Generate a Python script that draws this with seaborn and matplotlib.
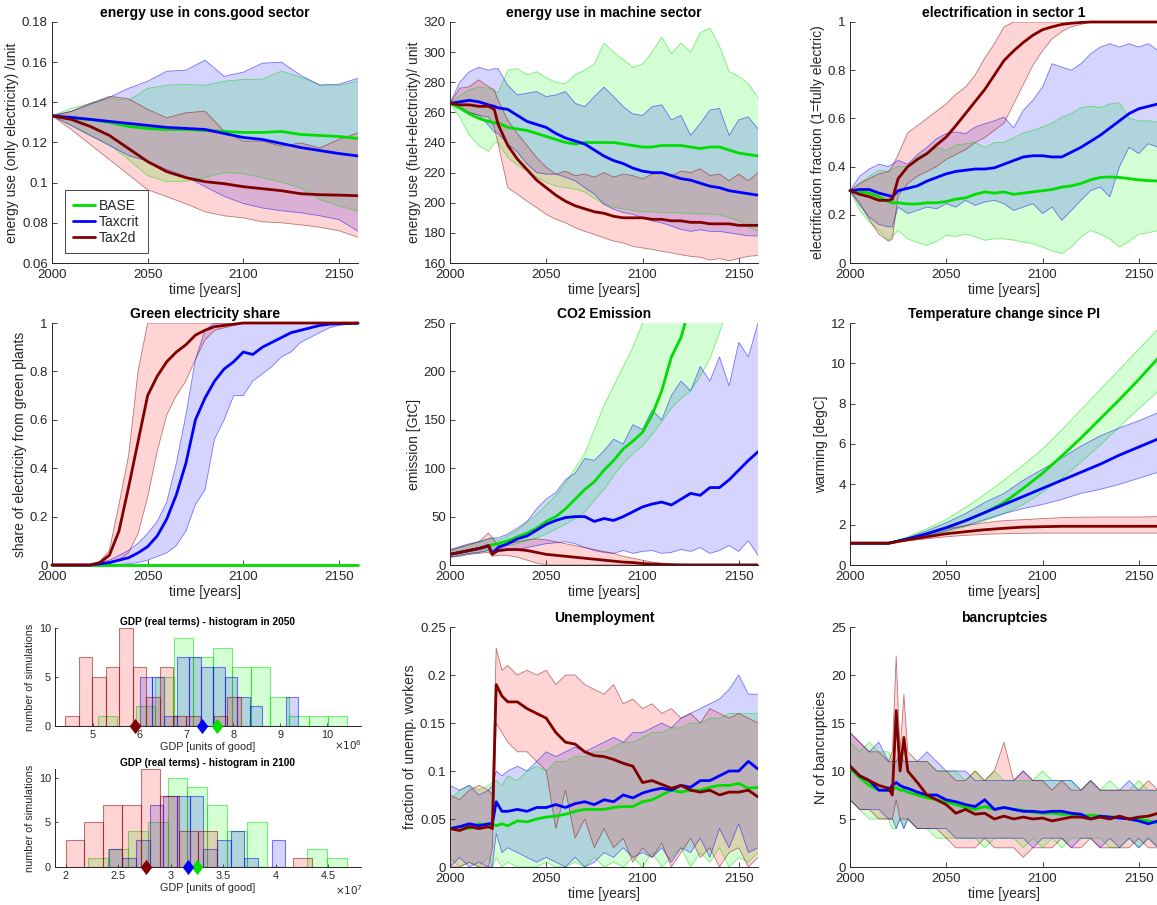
import numpy as np
import pandas as pd
import matplotlib
matplotlib.use("Agg")
import matplotlib.pyplot as plt
import seaborn as sns
from matplotlib.ticker import FuncFormatter
from matplotlib.lines import Line2D
from matplotlib.colors import to_rgba

# ---------------------------------------------------------------- data
SCEN = ["BASE", "Taxcrit", "Tax2d"]

# panel 1: energy use in cons.good sector
p1_years = list(range(2000, 2161, 10))
p1_base_mean = [.1333, .132, .1315, .130, .128, .127, .1265, .1265, .126, .1255, .125, .125, .1255, .124, .1235, .123, .122]
p1_base_lo = [.1333, .1285, .1235, .119, .1115, .1035, .1005, .1007, .1025, .105, .1045, .1025, .1002, .0974, .0916, .0883, .0858]
p1_base_hi = [.1333, .137, .1395, .142, .141, .147, .1485, .149, .1485, .1505, .1514, .1515, .1556, .1525, .149, .1484, .1505]
p1_tc_mean = [.1333, .1325, .1315, .1305, .1295, .1285, .1275, .127, .1265, .1245, .1225, .1215, .1195, .1175, .116, .1145, .1133]
p1_tc_lo = [.1333, .1285, .1235, .1185, .1135, .1107, .1065, .103, .098, .0932, .0896, .0874, .086, .085, .0835, .0816, .0758]
p1_tc_hi = [.1333, .1355, .139, .1425, .147, .1505, .1555, .156, .161, .153, .155, .1595, .160, .1535, .1485, .149, .152]
p1_t2_mean = [.1333, .1315, .128, .1235, .117, .1105, .1055, .1025, .1005, .0995, .098, .097, .096, .0945, .094, .0938, .0935]
p1_t2_lo = [.1333, .1265, .119, .1115, .104, .0965, .093, .0895, .0855, .0835, .0825, .0805, .080, .079, .0778, .0761, .0728]
p1_t2_hi = [.1333, .1355, .1395, .143, .1418, .1365, .1323, .1348, .1356, .1257, .1207, .1207, .1182, .1198, .1173, .1215, .1248]

# panel 2: energy use in machine sector
p2_years = [2000, 2005, 2010, 2015, 2020, 2023] + list(range(2025, 2161, 5))
p2_base_mean = [266, 263, 259, 256, 254, 253, 253, 250, 249, 248, 246, 244, 242, 240, 239, 240, 240, 240, 240, 239, 238, 237, 237, 238, 238, 238, 237, 236, 237, 237, 235, 233, 232, 231]
p2_base_lo = [266, 257, 245, 238, 234, 240, 240, 230, 225, 221, 217, 213.5, 211, 210, 209, 207, 203, 199, 197, 196, 195, 194, 194, 193.5, 193.5, 193, 193, 192.5, 192.5, 192, 190, 188, 184, 181]
p2_base_hi = [266, 271, 275, 277, 276, 274, 273, 288, 289, 285, 287, 283, 280, 279, 285, 288, 292, 306, 300, 295, 290, 292, 300, 310, 299, 306, 300, 313, 316, 304, 287, 284, 279, 270]
p2_tc_mean = [266, 267, 268, 267, 265, 264, 263, 262, 258, 254, 252, 250, 246, 243, 241, 239, 235, 231, 228, 226, 223, 221, 220, 220, 218, 216, 215, 213, 211, 210, 208, 207, 206, 205]
p2_tc_lo = [266, 262.6, 260, 258, 251.5, 247, 246, 239, 233.6, 225.8, 220, 219, 219, 217, 214.6, 210, 205.7, 199, 195.7, 193.4, 192.3, 190, 188, 186.7, 184.5, 182.3, 181, 182, 181, 181, 180, 179, 178, 178]
p2_tc_hi = [266, 280, 287, 290, 288, 289, 289, 278, 271.6, 272.7, 273.8, 270.5, 271.6, 273.8, 266, 263.8, 270.5, 276.7, 270.5, 263.8, 259, 258, 263.8, 265, 255, 258, 244.8, 252.6, 261.5, 262.6, 244.8, 255, 257, 249]
p2_t2_mean = [266, 265, 265, 264, 264, 262, 252, 238, 229, 222, 215, 210, 205, 201, 198, 196, 194, 193, 191, 190, 190, 190, 189, 189, 188, 188, 187, 187, 186, 186, 186, 185, 185, 185]
p2_t2_lo = [266, 263.8, 260, 258, 257, 250, 239, 210, 205.7, 201, 196.8, 192.3, 189, 186.7, 183.4, 181, 179, 176.7, 174.5, 173.3, 171, 170, 169, 167.8, 166.7, 165.5, 164.4, 163.8, 162, 162.9, 161.5, 163, 164.4, 165]
p2_t2_hi = [266, 276, 277, 281.6, 277, 275, 268, 254.8, 246, 238, 230, 223.6, 219, 221, 218, 219, 217, 220, 217, 219, 218, 215.8, 219, 220, 218, 221, 220, 222.5, 218, 219, 214.6, 219, 214.6, 220]

# panel 3: electrification in sector 1
p3_years = [2000, 2005, 2010, 2015, 2020, 2022] + list(range(2025, 2161, 5))
p3_base_mean = [.30, .295, .29, .275, .255, .25, .25, .245, .245, .25, .25, .255, .265, .27, .285, .295, .29, .295, .285, .29, .295, .30, .305, .315, .32, .33, .345, .355, .357, .355, .35, .345, .342, .34]
p3_base_lo = [.30, .22, .17, .135, .095, .11, .135, .10, .085, .073, .09, .115, .11, .12, .11, .094, .10, .10, .095, .087, .08, .066, .05, .039, .066, .108, .135, .12, .10, .066, .09, .12, .125, .135]
p3_base_hi = [.30, .33, .36, .385, .38, .39, .40, .40, .44, .46, .48, .467, .49, .495, .50, .48, .50, .50, .52, .54, .55, .565, .58, .605, .62, .645, .65, .645, .66, .665, .60, .59, .59, .585]
p3_tc_mean = [.30, .305, .305, .29, .28, .275, .30, .31, .32, .34, .355, .37, .38, .385, .39, .39, .395, .41, .425, .44, .445, .445, .44, .44, .46, .48, .505, .53, .56, .59, .62, .64, .65, .66]
p3_tc_lo = [.30, .24, .19, .16, .15, .15, .232, .205, .218, .232, .225, .246, .232, .26, .239, .253, .26, .246, .218, .232, .246, .205, .232, .177, .218, .26, .30, .315, .274, .40, .48, .454, .495, .48]
p3_tc_hi = [.30, .36, .39, .41, .40, .41, .426, .41, .45, .48, .516, .537, .544, .537, .564, .578, .59, .606, .56, .633, .675, .73, .827, .813, .80, .827, .868, .896, .91, .896, .91, .896, .91, .882]
p3_t2_mean = [.30, .285, .275, .26, .26, .265, .35, .40, .43, .454, .49, .523, .57, .62, .67, .72, .78, .84, .88, .915, .945, .968, .98, .99, .995, .998, 1, 1, 1, 1, 1, 1, 1, 1]
p3_t2_lo = [.30, .25, .18, .12, .09, .10, .28, .33, .36, .38, .40, .43, .45, .47, .50, .52, .55, .58, .66, .74, .82, .88, .93, .96, .98, .99, 1, 1, 1, 1, 1, 1, 1, 1]
p3_t2_hi = [.30, .33, .35, .37, .38, .40, .45, .54, .57, .60, .63, .66, .70, .73, .78, .85, .91, .98, 1, 1, 1, 1, 1, 1, 1, 1, 1, 1, 1, 1, 1, 1, 1, 1]

# panel 4: green electricity share
p4_years = list(range(2000, 2161, 5))
p4_base_mean = [0] * 33
p4_base_lo = [0] * 33
p4_base_hi = [0] * 33
p4_tc_mean = [0, 0, 0, 0, 0, .005, .01, .02, .03, .05, .076, .12, .19, .29, .42, .60, .69, .76, .81, .84, .88, .87, .90, .92, .94, .96, .97, .98, .99, .995, .997, .998, .999]
p4_tc_lo = [0, 0, 0, 0, 0, 0, 0, .002, .005, .01, .02, .035, .05, .08, .14, .25, .31, .52, .60, .70, .70, .76, .79, .82, .86, .88, .92, .94, .96, .98, .99, .995, .995]
p4_tc_hi = [0, 0, 0, 0, 0, .01, .02, .04, .06, .09, .13, .18, .26, .42, .62, .85, .97, 1, 1, 1, 1, 1, 1, 1, 1, 1, 1, 1, 1, 1, 1, 1, 1]
p4_t2_mean = [0, 0, 0, 0, 0, .01, .04, .14, .32, .51, .70, .78, .84, .88, .91, .95, .97, .985, .99, .995, 1, 1, 1, 1, 1, 1, 1, 1, 1, 1, 1, 1, 1]
p4_t2_lo = [0, 0, 0, 0, 0, 0, .005, .02, .05, .13, .28, .47, .62, .70, .76, .85, .93, .97, .98, .99, 1, 1, 1, 1, 1, 1, 1, 1, 1, 1, 1, 1, 1]
p4_t2_hi = [0, 0, 0, 0, 0, .015, .06, .25, .45, .80, 1, 1, 1, 1, 1, 1, 1, 1, 1, 1, 1, 1, 1, 1, 1, 1, 1, 1, 1, 1, 1, 1, 1]

# panel 5: CO2 emission
p5_years = [2000, 2005, 2010, 2015, 2020, 2022] + list(range(2025, 2161, 5))
p5_base_mean = [11, 13, 15, 17, 19, 21, 22, 25, 29, 33, 38, 45, 50, 58, 68, 78, 86, 98, 108, 120, 128, 137, 155, 180, 215, 235, 270, 300, 330, 360, 390, 420, 450, 480]
p5_base_lo = [8, 10, 12, 13, 15, 16, 18, 20, 22, 25, 28, 32, 37, 42, 48, 55, 67, 78, 92, 105, 115, 123, 135, 148, 162, 172, 180, 195, 213, 240, 270, 300, 330, 360]
p5_base_hi = [15, 18, 21, 24, 27, 28, 25, 30, 36, 44, 52, 62, 72, 85, 100, 115, 140, 165, 185, 205, 225, 250, 280, 310, 340, 370, 400, 430, 460, 490, 520, 550, 580, 610]
p5_tc_mean = [11, 13, 15, 17, 20, 12, 18, 22, 27, 30, 36, 42, 46, 49, 50, 50, 45, 48, 46, 50, 55, 60, 63, 65, 62, 68, 74, 72, 80, 80, 88, 98, 108, 117]
p5_tc_lo = [8, 10, 12, 13, 15, 10, 14, 15, 16, 18, 20, 22, 23, 24, 22, 18, 15, 13, 12, 15, 12, 14, 15, 12, 13, 16, 14, 18, 12, 15, 20, 14, 25, 10]
p5_tc_hi = [16, 19, 22, 24, 27, 28, 28, 32, 38, 45, 58, 68, 75, 88, 95, 110, 108, 118, 130, 125, 145, 140, 160, 150, 175, 190, 180, 205, 190, 215, 185, 230, 215, 250]
p5_t2_mean = [11, 13, 15, 17, 20, 11, 15, 16, 16, 15, 13, 11, 10, 9, 8, 7, 6, 5, 4, 3, 2.5, 1.5, 1, .5, .3, .2, .1, .1, .1, .1, .1, .1, .1, .1]
p5_t2_lo = [8, 9, 11, 12, 13, 9, 10, 10, 8, 5, 2, 0, 0, 0, 0, 0, 0, 0, 0, 0, 0, 0, 0, 0, 0, 0, 0, 0, 0, 0, 0, 0, 0, 0]
p5_t2_hi = [15, 18, 21, 24, 33, 28, 20, 22, 24, 26, 27, 26, 24, 22, 20, 18, 16, 14, 12, 9, 7, 5, 3, 2, 1, .5, .3, .3, .3, .3, .3, .3, .3, .3]

# panel 6: temperature change since PI
p6_years = list(range(2000, 2161, 10))
p6_base_mean = [1.08, 1.08, 1.08, 1.3, 1.55, 1.85, 2.2, 2.6, 3.1, 3.8, 4.55, 5.4, 6.3, 7.25, 8.2, 9.2, 10.25]
p6_base_lo = [1.08, 1.08, 1.08, 1.25, 1.45, 1.65, 1.9, 2.2, 2.55, 3.0, 3.6, 4.3, 5.1, 5.95, 6.85, 7.75, 8.6]
p6_base_hi = [1.08, 1.08, 1.08, 1.4, 1.8, 2.25, 2.85, 3.5, 4.2, 4.95, 5.75, 6.7, 7.7, 8.7, 9.7, 10.7, 11.7]
p6_tc_mean = [1.08, 1.08, 1.08, 1.3, 1.55, 1.85, 2.2, 2.6, 3.0, 3.4, 3.8, 4.2, 4.6, 5.0, 5.45, 5.85, 6.25]
p6_tc_lo = [1.08, 1.08, 1.08, 1.25, 1.45, 1.7, 1.95, 2.25, 2.55, 2.8, 3.0, 3.25, 3.55, 3.75, 4.0, 4.3, 4.6]
p6_tc_hi = [1.08, 1.08, 1.08, 1.35, 1.7, 2.1, 2.55, 3.1, 3.55, 4.2, 4.75, 5.3, 5.9, 6.4, 6.8, 7.15, 7.55]
p6_t2_mean = [1.08, 1.08, 1.08, 1.25, 1.4, 1.55, 1.65, 1.75, 1.82, 1.88, 1.9, 1.92, 1.92, 1.92, 1.92, 1.92, 1.92]
p6_t2_lo = [1.08, 1.08, 1.08, 1.2, 1.3, 1.4, 1.47, 1.52, 1.55, 1.57, 1.58, 1.58, 1.58, 1.58, 1.58, 1.58, 1.58]
p6_t2_hi = [1.08, 1.08, 1.08, 1.3, 1.55, 1.8, 1.95, 2.1, 2.2, 2.25, 2.3, 2.35, 2.37, 2.38, 2.38, 2.38, 2.4]

# panel 8: unemployment
p8_years = [2000, 2005, 2010, 2015, 2020, 2022, 2024, 2027] + list(range(2030, 2161, 5))
p8_base_mean = [.04, .042, .04, .045, .043, .045, .043, .045, .043, .048, .047, .05, .052, .053, .055, .058, .06, .06, .06, .062, .063, .063, .068, .07, .075, .08, .078, .08, .08, .083, .085, .085, .087, .082, .083]
p8_base_lo = [.01, 0, .005, 0, .01, 0, .01, 0, .005, 0, 0, 0, .005, 0, 0, .005, 0, .01, 0, .005, 0, .01, 0, .015, 0, .01, .02, 0, .015, .005, .02, 0, .01, .005, .015]
p8_base_hi = [.07, .08, .085, .08, .085, .088, .09, .085, .095, .09, .1, .105, .1, .11, .11, .115, .115, .12, .12, .125, .13, .13, .135, .14, .14, .145, .145, .15, .15, .155, .155, .16, .16, .16, .16]
p8_tc_mean = [.04, .042, .045, .043, .045, .045, .068, .058, .058, .06, .058, .062, .062, .065, .062, .066, .068, .065, .07, .068, .075, .072, .077, .08, .082, .08, .085, .083, .09, .09, .095, .1, .1, .11, .102]
p8_tc_lo = [0, .01, 0, .005, 0, 0, .035, .015, .02, .015, .01, .005, .01, .005, 0, .01, 0, .005, .015, .01, .02, .01, .015, .01, .02, .005, .02, .015, .03, .01, .04, .02, .045, .015, .02]
p8_tc_hi = [.085, .08, .085, .075, .08, .085, .1, .095, .1, .105, .1, .11, .12, .115, .12, .125, .12, .125, .13, .135, .13, .14, .14, .145, .15, .145, .155, .16, .165, .17, .175, .185, .2, .18, .18]
p8_t2_mean = [.04, .038, .042, .04, .042, .04, .19, .178, .172, .172, .165, .16, .155, .14, .13, .128, .12, .116, .115, .112, .108, .105, .088, .09, .086, .082, .085, .08, .078, .08, .075, .078, .078, .08, .073]
p8_t2_lo = [0, 0, .005, 0, 0, .02, .15, .14, .13, .12, .12, .11, .1, .04, .08, .03, .05, .02, .04, .02, .03, .005, .02, .01, .025, 0, .015, .03, .01, .02, 0, .015, .02, 0, .01]
p8_t2_hi = [.075, .07, .08, .085, .08, .075, .228, .205, .21, .2, .205, .2, .205, .19, .2, .2, .19, .185, .18, .19, .17, .175, .165, .17, .16, .165, .155, .16, .15, .165, .16, .155, .16, .155, .15]

# panel 9: bancruptcies
p9_years = [2000, 2005, 2010, 2015, 2020, 2022, 2024, 2026, 2028, 2030] + list(range(2035, 2161, 5))
p9_base_mean = [10.3, 9.3, 8.5, 8, 8, 8, 8.3, 8, 8, 7.8, 7.5, 7.2, 7, 6.8, 6.5, 6.2, 6, 6.3, 6, 6.2, 6, 5.9, 5.7, 5.6, 5.6, 5.5, 5.5, 5.3, 5.4, 5.3, 5.2, 5.2, 5, 5, 4.8, 4.6]
p9_base_lo = [7, 6, 5, 5, 5, 4, 4, 5, 4, 5, 4, 4, 3, 3, 3, 3, 3, 2, 3, 3, 3, 2, 3, 2, 3, 2, 3, 3, 3, 3, 2, 2, 3, 2, 3, 2]
p9_base_hi = [13, 12, 13, 12, 12, 11, 11, 11, 12, 11, 11, 11, 10, 10, 10, 9, 10, 9, 10, 9, 9, 9, 9, 10, 9, 9, 9, 8, 9, 8, 9, 8, 8, 9, 8, 8]
p9_tc_mean = [10.5, 9.5, 9, 8, 8, 8.5, 8.8, 8.5, 8.3, 8.2, 7.8, 7.5, 7.5, 7, 6.8, 6.5, 6.3, 7, 6, 6.2, 6, 5.8, 5.8, 5.7, 5.8, 5.8, 5.6, 5.5, 5, 5.3, 5.2, 5.1, 5, 4.8, 4.5, 4.8]
p9_tc_lo = [7, 6, 6, 6, 5, 5, 4, 5, 4, 5, 4, 4, 4, 4, 3, 3, 3, 3, 3, 3, 3, 3, 2, 3, 3, 3, 2, 3, 3, 2, 3, 2, 3, 2, 3, 2]
p9_tc_hi = [14, 13, 12, 13, 11, 11, 11, 12, 11, 11, 11, 12, 11, 10, 10, 10, 9, 9, 9, 9, 9, 10, 9, 9, 9, 9, 9, 8, 9, 8, 8, 8, 9, 8, 8, 8]
p9_t2_mean = [10.5, 9.5, 9, 8.5, 8.2, 7.5, 16.3, 10, 13.5, 10, 8.8, 7.5, 7, 6.5, 5.6, 6, 5.5, 5.6, 5, 5.3, 5, 5.2, 5, 5.1, 4.8, 5, 5.2, 5.2, 5, 5.2, 5, 5.3, 5, 5.2, 5.3, 5.6]
p9_t2_lo = [7, 6, 6, 5, 5, 5, 7, 5, 5, 5, 4, 4, 4, 3, 2, 2, 2, 3, 2, 2, 2, 1, 2, 2, 2, 3, 2, 2, 3, 2, 2, 2, 2, 3, 2, 2]
p9_t2_hi = [14, 13, 12, 12, 11, 12, 22, 12, 18, 12, 11, 11, 10, 10, 9, 9, 10, 9, 10, 13, 9, 10, 9, 9, 8, 9, 8, 8, 9, 8, 8, 8, 8, 8, 9, 8]

# histograms of GDP (2050 in units of 1e6, 2100 in units of 1e7)
h50_edges_base = [5.10, 5.51, 5.92, 6.33, 6.74, 7.15, 7.56, 7.97, 8.38, 8.79, 9.20, 9.61, 10.02, 10.43]
h50_counts_base = [1, 0, 2, 5, 9, 7, 8, 6, 6, 3, 1, 1, 1]
h50_edges_tc = [6.01, 6.27, 6.53, 6.79, 7.05, 7.31, 7.57, 7.83, 8.09, 8.35, 8.61, 8.87, 9.13, 9.39]
h50_counts_tc = [5, 5, 1, 7, 7, 6, 6, 5, 3, 2, 0, 0, 3]
h50_edges_t2 = [4.41, 4.70, 4.99, 5.27, 5.56, 5.85, 6.14, 6.43, 6.71, 7.00, 7.29, 7.58, 7.87, 8.16]
h50_counts_t2 = [1, 7, 5, 6, 10, 6, 3, 6, 1, 1, 0, 1, 3]
h50_means = [7.66, 7.33, 5.89]

h100_edges_base = [2.21, 2.40, 2.59, 2.78, 2.97, 3.16, 3.35, 3.54, 3.73, 3.92, 4.11, 4.30, 4.49, 4.68]
h100_counts_base = [1, 2, 4, 5, 10, 9, 7, 4, 5, 0, 0, 2, 1]
h100_edges_tc = [2.41, 2.54, 2.67, 2.80, 2.93, 3.06, 3.18, 3.31, 3.44, 3.57, 3.70, 3.83, 3.96, 4.09]
h100_counts_tc = [2, 1, 3, 7, 8, 8, 8, 2, 3, 4, 1, 0, 3]
h100_edges_t2 = [2.00, 2.18, 2.36, 2.54, 2.72, 2.90, 3.08, 3.26, 3.44, 3.62, 3.80, 3.98, 4.16, 4.34]
h100_counts_t2 = [3, 5, 7, 7, 11, 8, 4, 4, 0, 0, 0, 0, 1]
h100_means = [3.255, 3.165, 2.77]

# ---------------------------------------------------------------- style
LINE = {"BASE": "#00dd00", "Taxcrit": "#0000ff", "Tax2d": "#800000"}
FILL = {"BASE": "#00ff00", "Taxcrit": "#0000ff", "Tax2d": "#ff0000"}
FA = 0.17
INK = "#262626"

sns.set_theme(style="ticks")
plt.rcParams["font.family"] = ["Liberation Sans", "DejaVu Sans"]
plt.rcParams["axes.linewidth"] = 0.7

W, H = 1157, 905
fig = plt.figure(figsize=(W / 100, H / 100), dpi=100)


def add_ax(l, t, r, b):
    return fig.add_axes([l / W, 1 - b / H, (r - l) / W, (b - t) / H])


gfmt = FuncFormatter(lambda v, p: f"{v:g}")


def band_panel(ax, years, series, clip=True):
    rows = []
    for s in SCEN:
        m, lo, hi = series[s]
        ax.fill_between(years, lo, hi, facecolor=to_rgba(FILL[s], FA), edgecolor="none", zorder=1)
        ax.plot(years, lo, color=LINE[s], alpha=0.5, lw=0.6, zorder=2)
        ax.plot(years, hi, color=LINE[s], alpha=0.5, lw=0.6, zorder=2)
        rows += [(s, y, v) for y, v in zip(years, m)]
    df = pd.DataFrame(rows, columns=["scenario", "year", "value"])
    sns.lineplot(data=df, x="year", y="value", hue="scenario", hue_order=SCEN,
                 palette=LINE, estimator=None, linewidth=2, legend=False, ax=ax,
                 zorder=3, clip_on=clip)


def style(ax, title, ylabel, ylim, yticks):
    ax.set_xlim(2000, 2160)
    ax.set_xticks([2000, 2050, 2100, 2150])
    ax.set_ylim(*ylim)
    ax.set_yticks(yticks)
    ax.yaxis.set_major_formatter(gfmt)
    ax.set_title(title, fontsize=10, fontweight="bold", pad=3.5, color="black")
    ax.set_xlabel("time [years]", fontsize=10, labelpad=1, color=INK)
    ax.set_ylabel(ylabel, fontsize=10, labelpad=2, color=INK)
    sns.despine(ax=ax)
    ax.tick_params(direction="in", length=3.5, width=0.6, labelsize=9.5, colors=INK, pad=3)
    ax.tick_params(axis="x", pad=4.5)
    for sp in ax.spines.values():
        sp.set_color(INK)
        sp.set_linewidth(0.7)


cols = [(52, 358), (450, 758), (850, 1158)]
rows_tb = [(22, 263), (323, 565), (627, 867)]

# row 1
ax1 = add_ax(cols[0][0], rows_tb[0][0], cols[0][1], rows_tb[0][1])
band_panel(ax1, p1_years, {"BASE": (p1_base_mean, p1_base_lo, p1_base_hi),
                           "Taxcrit": (p1_tc_mean, p1_tc_lo, p1_tc_hi),
                           "Tax2d": (p1_t2_mean, p1_t2_lo, p1_t2_hi)})
style(ax1, "energy use in cons.good sector", "energy use (only electricity) /unit",
      (0.06, 0.18), [0.06, 0.08, 0.10, 0.12, 0.14, 0.16, 0.18])
leg = ax1.legend(handles=[Line2D([0], [0], color=LINE[s], lw=2) for s in SCEN], labels=SCEN,
                 loc="lower left", bbox_to_anchor=(0.042, 0.041), borderaxespad=0,
                 frameon=True, fancybox=False, edgecolor=INK, framealpha=1, fontsize=10,
                 handlelength=1.6, handletextpad=0.25, borderpad=0.6, labelspacing=0.15)
leg.get_frame().set_linewidth(0.6)

ax2 = add_ax(cols[1][0], rows_tb[0][0], cols[1][1], rows_tb[0][1])
band_panel(ax2, p2_years, {"BASE": (p2_base_mean, p2_base_lo, p2_base_hi),
                           "Taxcrit": (p2_tc_mean, p2_tc_lo, p2_tc_hi),
                           "Tax2d": (p2_t2_mean, p2_t2_lo, p2_t2_hi)})
style(ax2, "energy use in machine sector", "energy use (fuel+electricity)/ unit",
      (160, 320), list(range(160, 321, 20)))

ax3 = add_ax(cols[2][0], rows_tb[0][0], cols[2][1], rows_tb[0][1])
band_panel(ax3, p3_years, {"BASE": (p3_base_mean, p3_base_lo, p3_base_hi),
                           "Taxcrit": (p3_tc_mean, p3_tc_lo, p3_tc_hi),
                           "Tax2d": (p3_t2_mean, p3_t2_lo, p3_t2_hi)}, clip=False)
style(ax3, "electrification in sector 1", "electrification fraction (1=fully electric)",
      (0, 1), [0, 0.2, 0.4, 0.6, 0.8, 1])

# row 2
ax4 = add_ax(cols[0][0], rows_tb[1][0], cols[0][1], rows_tb[1][1])
band_panel(ax4, p4_years, {"BASE": (p4_base_mean, p4_base_lo, p4_base_hi),
                           "Taxcrit": (p4_tc_mean, p4_tc_lo, p4_tc_hi),
                           "Tax2d": (p4_t2_mean, p4_t2_lo, p4_t2_hi)}, clip=False)
style(ax4, "Green electricity share", "share of electricity from green plants",
      (0, 1), [0, 0.2, 0.4, 0.6, 0.8, 1])

ax5 = add_ax(cols[1][0], rows_tb[1][0], cols[1][1], rows_tb[1][1])
band_panel(ax5, p5_years, {"BASE": (p5_base_mean, p5_base_lo, p5_base_hi),
                           "Taxcrit": (p5_tc_mean, p5_tc_lo, p5_tc_hi),
                           "Tax2d": (p5_t2_mean, p5_t2_lo, p5_t2_hi)})
style(ax5, "CO2 Emission", "emission [GtC]", (0, 250), [0, 50, 100, 150, 200, 250])

ax6 = add_ax(cols[2][0], rows_tb[1][0], cols[2][1], rows_tb[1][1])
band_panel(ax6, p6_years, {"BASE": (p6_base_mean, p6_base_lo, p6_base_hi),
                           "Taxcrit": (p6_tc_mean, p6_tc_lo, p6_tc_hi),
                           "Tax2d": (p6_t2_mean, p6_t2_lo, p6_t2_hi)})
style(ax6, "Temperature change since PI", "warming [degC]", (0, 12), [0, 2, 4, 6, 8, 10, 12])

# row 3
ax8 = add_ax(cols[1][0], rows_tb[2][0], cols[1][1], rows_tb[2][1])
band_panel(ax8, p8_years, {"BASE": (p8_base_mean, p8_base_lo, p8_base_hi),
                           "Taxcrit": (p8_tc_mean, p8_tc_lo, p8_tc_hi),
                           "Tax2d": (p8_t2_mean, p8_t2_lo, p8_t2_hi)})
style(ax8, "Unemployment", "fraction of unemp. workers", (0, 0.25), [0, 0.05, 0.1, 0.15, 0.2, 0.25])

ax9 = add_ax(cols[2][0], rows_tb[2][0], cols[2][1], rows_tb[2][1])
band_panel(ax9, p9_years, {"BASE": (p9_base_mean, p9_base_lo, p9_base_hi),
                           "Taxcrit": (p9_tc_mean, p9_tc_lo, p9_tc_hi),
                           "Tax2d": (p9_t2_mean, p9_t2_lo, p9_t2_hi)})
style(ax9, "bancruptcies", "Nr of bancruptcies", (0, 25), [0, 5, 10, 15, 20, 25])

# histograms
DIAMOND = [(0, -1.25), (0.95, 0), (0, 1.25), (-0.95, 0), (0, -1.25)]


def hist_panel(ax, edges, counts, means, title, xlim, ylim, xticks, exp_txt, exp_y):
    for s in SCEN:
        e = [float(v) for v in edges[s]]
        c = [float(v) for v in counts[s]]
        centers = [(a + b) / 2 for a, b in zip(e[:-1], e[1:])]
        hdf = pd.DataFrame({"gdp": centers, "n": c})
        sns.histplot(data=hdf, x="gdp", weights="n", bins=e, ax=ax, stat="count",
                     element="bars", fill=True, facecolor=to_rgba(FILL[s], FA),
                     edgecolor=to_rgba(LINE[s], 0.5), linewidth=0.8)
    for s, m in zip(SCEN, means):
        ax.scatter([m], [0], marker=DIAMOND, s=120, color=LINE[s], zorder=5, clip_on=False,
                   linewidths=0)
    ax.set_xlim(*xlim)
    ax.set_ylim(*ylim)
    ax.set_xticks(xticks)
    ax.set_yticks([0, 5, 10])
    ax.xaxis.set_major_formatter(gfmt)
    ax.set_title(title, fontsize=7.3, fontweight="bold", pad=2.5, color="black")
    ax.set_xlabel("GDP [units of good]", fontsize=7.8, labelpad=1, color=INK)
    ax.set_ylabel("number of simulations", fontsize=7.8, labelpad=3, color=INK)
    sns.despine(ax=ax)
    ax.tick_params(direction="in", length=2.5, width=0.6, labelsize=7.8, colors=INK, pad=3)
    for sp in ax.spines.values():
        sp.set_color(INK)
        sp.set_linewidth(0.7)
    ax.text(1.005, exp_y, exp_txt, transform=ax.transAxes, ha="right", va="center",
            fontsize=7.5, color=INK)


axh1 = add_ax(55, 628, 361, 726)
hist_panel(axh1,
           {"BASE": h50_edges_base, "Taxcrit": h50_edges_tc, "Tax2d": h50_edges_t2},
           {"BASE": h50_counts_base, "Taxcrit": h50_counts_tc, "Tax2d": h50_counts_t2},
           h50_means, "GDP (real terms) - histogram in 2050", (4.19, 10.73), (0, 10),
           [5, 6, 7, 8, 9, 10], r"$\times10^{6}$", -0.2)

axh2 = add_ax(55, 769, 361, 867)
hist_panel(axh2,
           {"BASE": h100_edges_base, "Taxcrit": h100_edges_tc, "Tax2d": h100_edges_t2},
           {"BASE": h100_counts_base, "Taxcrit": h100_counts_tc, "Tax2d": h100_counts_t2},
           h100_means, "GDP (real terms) - histogram in 2100", (1.9, 4.81), (0, 11),
           [2, 2.5, 3, 3.5, 4, 4.5], r"$\times10^{7}$", -0.24)

fig.savefig("out.png", dpi=100)
